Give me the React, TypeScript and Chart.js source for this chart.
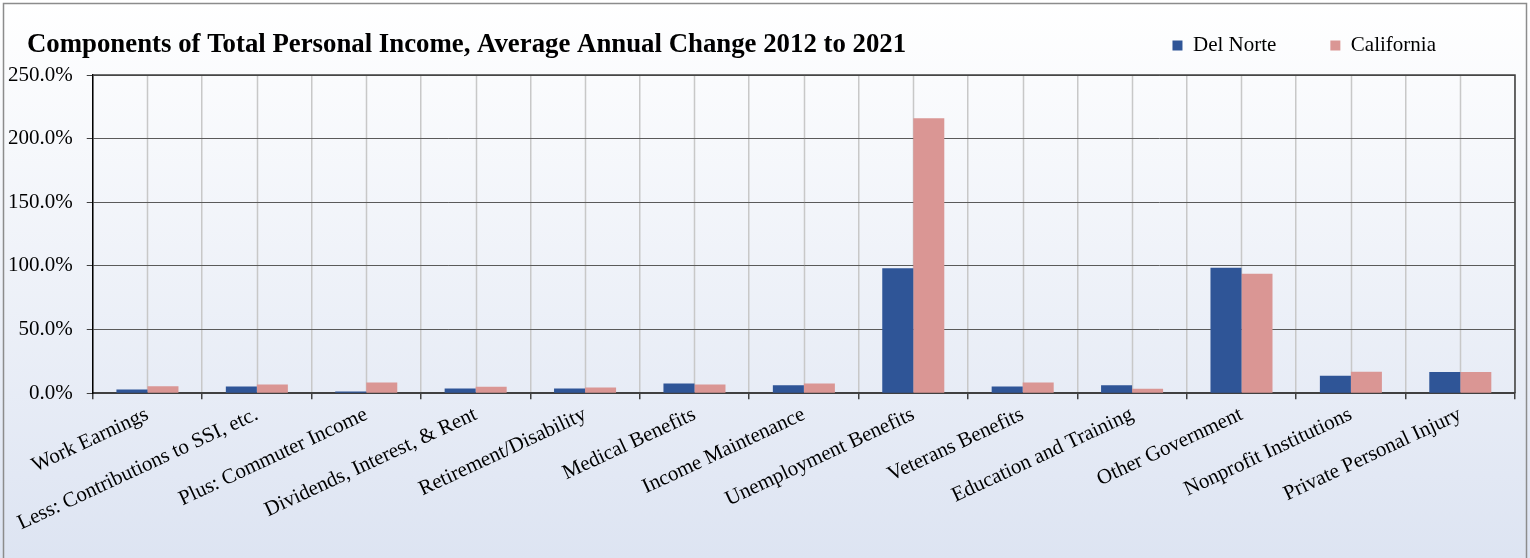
import React, { useEffect, useRef } from "react";
import { Chart, registerables } from "chart.js";

Chart.register(...registerables);

const CATEGORIES = [
  "Work Earnings",
  "Less: Contributions to SSI, etc.",
  "Plus: Commuter Income",
  "Dividends, Interest, & Rent",
  "Retirement/Disability",
  "Medical Benefits",
  "Income Maintenance",
  "Unemployment Benefits",
  "Veterans Benefits",
  "Education and Training",
  "Other Government",
  "Nonprofit Institutions",
  "Private Personal Injury",
];
const DEL_NORTE = [2.9, 5.3, 1.3, 3.7, 3.7, 7.6, 6.3, 98.1, 5.3, 6.3, 98.6, 13.7, 16.6];
const CALIFORNIA = [5.5, 6.9, 8.4, 5.0, 4.5, 6.9, 7.6, 216.0, 8.4, 3.5, 93.9, 16.9, 16.6];
const Y_MIN = 0;
const Y_MAX = 250;
const Y_STEP = 50;
const TITLE = "Components of Total Personal Income, Average Annual Change 2012 to 2021";

const W = 1530;
const H = 558;
const SERIF = "'Liberation Serif', 'Times New Roman', serif";

const decorPlugin = {
  id: "decor",
  beforeDraw(chart: any) {
    const { ctx, chartArea, scales } = chart;
    ctx.save();
    const g = ctx.createLinearGradient(0, 0, 0, H);
    g.addColorStop(0, "#ffffff");
    g.addColorStop(1, "#dde4f2");
    ctx.fillStyle = g;
    ctx.fillRect(0, 0, W, H);
    ctx.strokeStyle = "#8c8c8c";
    ctx.lineWidth = 1.5;
    ctx.strokeRect(3.5, 3.5, W - 7, H);
    // category-centre vertical grid lines
    const xs = scales.x;
    ctx.strokeStyle = "#c8c8c8";
    ctx.lineWidth = 1.5;
    for (let i = 0; i < CATEGORIES.length; i++) {
      const px = Math.round(xs.getPixelForValue(i)) + 0.5;
      ctx.beginPath();
      ctx.moveTo(px, chartArea.top);
      ctx.lineTo(px, chartArea.bottom);
      ctx.stroke();
    }
    // title
    ctx.fillStyle = "#000";
    ctx.font = "bold 26.8px " + SERIF;
    ctx.textBaseline = "alphabetic";
    ctx.textAlign = "left";
    ctx.fillText(TITLE, 27, 52);
    ctx.restore();
  },
  afterLayout(chart: any) {
    if (chart.legend) {
      chart.legend.left -= 25;
      chart.legend.right -= 25;
      chart.legend.top -= 9;
      chart.legend.bottom -= 9;
    }
  },
  afterDraw(chart: any) {
    const { ctx, chartArea } = chart;
    ctx.save();
    ctx.strokeStyle = "#404040";
    ctx.lineWidth = 1.5;
    ctx.beginPath();
    ctx.moveTo(chartArea.left, chartArea.top);
    ctx.lineTo(chartArea.right, chartArea.top);
    ctx.lineTo(chartArea.right, chartArea.bottom);
    ctx.stroke();
    ctx.restore();
  },
};

export default function App() {
  const ref = useRef<HTMLCanvasElement | null>(null);
  useEffect(() => {
    if (!ref.current) return;
    const chart = new Chart(ref.current, {
      type: "bar",
      data: {
        labels: CATEGORIES,
        datasets: [
          {
            label: "Del Norte",
            data: DEL_NORTE,
            backgroundColor: "#2F5597",
            borderWidth: 0,
            categoryPercentage: 0.567,
            barPercentage: 1,
          },
          {
            label: "California",
            data: CALIFORNIA,
            backgroundColor: "#DA9694",
            borderWidth: 0,
            categoryPercentage: 0.567,
            barPercentage: 1,
          },
        ],
      },
      options: {
        responsive: false,
        animation: false,
        layout: { padding: { top: -10, left: -6, right: 15, bottom: 19 } },
        plugins: {
          title: { display: false },
          tooltip: { enabled: false },
          legend: {
            display: true,
            position: "top",
            align: "end",
            labels: {
              boxWidth: 10,
              boxHeight: 10,
              padding: 54,
              color: "#000",
              font: { family: SERIF, size: 21 },
            },
          },
        },
        scales: {
          x: {
            offset: true,
            grid: {
              offset: true,
              color: (c: any) => (c.index === CATEGORIES.length ? "#404040" : "#c8c8c8"),
              lineWidth: 1.5,
              tickLength: 6,
              tickColor: "#404040",
            },
            border: { color: "#404040", width: 2 },
            ticks: {
              autoSkip: false,
              maxRotation: 25,
              minRotation: 25,
              color: "#000",
              padding: 3,
              font: { family: SERIF, size: 21 },
            },
          },
          y: {
            min: Y_MIN,
            max: Y_MAX,
            grid: {
              color: "#5a5a5a",
              lineWidth: 1,
              tickLength: 6,
              tickColor: "#404040",
            },
            border: { color: "#000", width: 1.5 },
            ticks: {
              stepSize: Y_STEP,
              color: "#000",
              padding: 14,
              font: { family: SERIF, size: 21 },
              callback: (v: any) => Number(v).toFixed(1) + "%",
            },
          },
        },
      },
      plugins: [decorPlugin],
    });
    return () => chart.destroy();
  }, []);
  return (
    <div style={{ position: "absolute", left: 0, top: 0, width: W, height: H }}>
      <canvas ref={ref} width={W} height={H} style={{ display: "block" }} />
    </div>
  );
}
